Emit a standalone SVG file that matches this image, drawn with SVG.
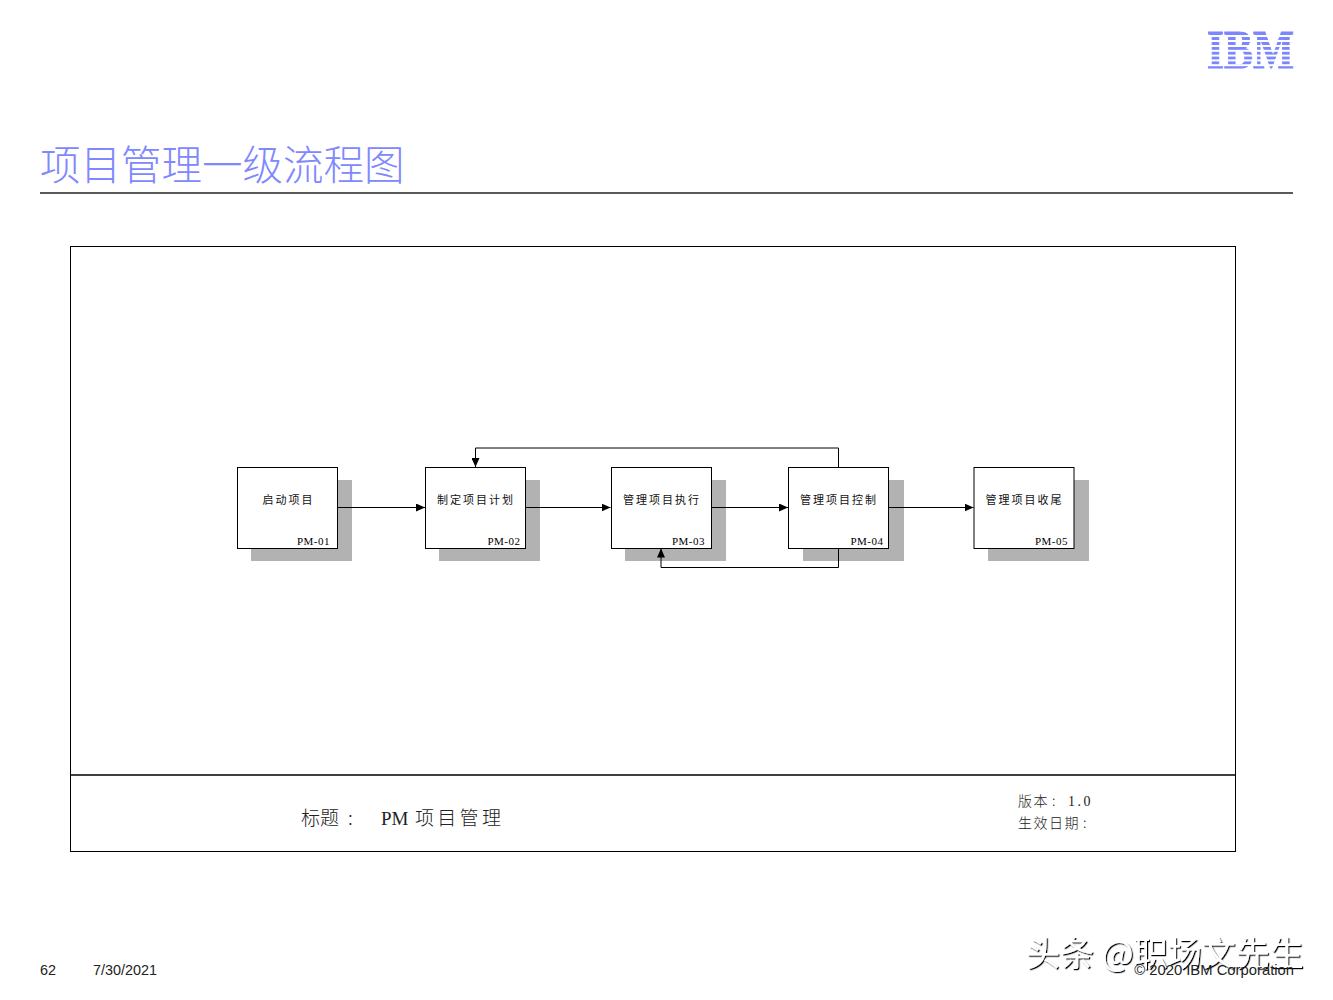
<svg xmlns="http://www.w3.org/2000/svg" width="1333" height="1000" viewBox="0 0 1333 1000">
<style>
.cjk{font-family:"Noto Sans CJK SC","Liberation Serif",sans-serif}
.box{fill:#fff;stroke:#000;stroke-width:1}
.sh{fill:#b2b2b2}
.lab{font-family:"Noto Sans CJK SC",sans-serif;font-size:11px;fill:#111;text-anchor:middle;letter-spacing:2px}
.code{font-family:"Liberation Serif",serif;font-size:11px;fill:#000;text-anchor:end;letter-spacing:.5px}
.con{fill:none;stroke:#000;stroke-width:1}
.foot{font-family:"Liberation Sans",sans-serif;font-size:14.4px;fill:#222}
</style>
<defs>
<marker id="arr" markerUnits="userSpaceOnUse" markerWidth="9" markerHeight="8" refX="9" refY="4" orient="auto"><path d="M0 0L9 4L0 8Z" fill="#000"/></marker>
<filter id="wm" x="-5%" y="-10%" width="110%" height="130%"><feDropShadow dx="1.2" dy="1.2" stdDeviation="0.3" flood-color="#000"/></filter>
</defs>
<rect width="1333" height="1000" fill="#fff"/>
<g id="logo">
<text x="1207" y="67.500" font-family="Liberation Serif,serif" font-weight="700" font-size="54" fill="#7b86ff" stroke="#7b86ff" stroke-width="1" textLength="87" lengthAdjust="spacingAndGlyphs">IBM</text>
<g fill="#fff"><rect x="1204" y="35" width="92" height="2"/><rect x="1204" y="40" width="92" height="2"/><rect x="1204" y="45" width="92" height="2"/><rect x="1204" y="49.800" width="92" height="2"/><rect x="1204" y="54.600" width="92" height="2"/><rect x="1204" y="59.400" width="92" height="2"/><rect x="1204" y="64.200" width="92" height="2"/></g>
</g>
<text id="title" class="cjk" x="40" y="180" font-size="40.500" font-weight="300" fill="#8088ff">项目管理一级流程图</text>
<line x1="40" y1="193" x2="1293" y2="193" stroke="#222" stroke-width="1.500"/>
<g id="frame"><rect x="70.500" y="246.500" width="1165" height="605" fill="none" stroke="#000"/><line x1="70" y1="775" x2="1236" y2="775" stroke="#000" stroke-width="1.300"/></g>
<g id="n1"><rect class="sh" x="251" y="480" width="101" height="81"/><rect class="box" x="237.500" y="467.500" width="100" height="81"/><text class="lab" x="288.500" y="504">启动项目</text><text class="code" x="330" y="545">PM-01</text></g>
<g id="n2"><rect class="sh" x="439" y="480" width="101" height="81"/><rect class="box" x="425.500" y="467.500" width="100" height="81"/><text class="lab" x="476" y="504">制定项目计划</text><text class="code" x="520.500" y="545">PM-02</text></g>
<g id="n3"><rect class="sh" x="625" y="480" width="101" height="81"/><rect class="box" x="611.500" y="467.500" width="100" height="81"/><text class="lab" x="662" y="504">管理项目执行</text><text class="code" x="705" y="545">PM-03</text></g>
<g id="n4"><rect class="sh" x="803" y="480" width="101" height="81"/><rect class="box" x="788.500" y="467.500" width="100" height="81"/><text class="lab" x="839" y="504">管理项目控制</text><text class="code" x="883.500" y="545">PM-04</text></g>
<g id="n5"><rect class="sh" x="988" y="480" width="101" height="81"/><rect class="box" x="974" y="467.500" width="100" height="81"/><text class="lab" x="1024.500" y="504">管理项目收尾</text><text class="code" x="1068" y="545">PM-05</text></g>
<g id="connectors">
<path class="con" d="M338 507.500H425" marker-end="url(#arr)"/>
<path class="con" d="M526 507.500H610.500" marker-end="url(#arr)"/>
<path class="con" d="M712 507.500H788" marker-end="url(#arr)"/>
<path class="con" d="M889 507.500H973.500" marker-end="url(#arr)"/>
<path class="con" d="M838.500 467V448H475.500V467" marker-end="url(#arr)"/>
<path class="con" d="M838.500 549V567.500H661V548.500" marker-end="url(#arr)"/>
</g>
<g id="caption" fill="#222">
<text class="cjk" x="301" y="825" font-size="19" font-weight="300">标题<tspan dx="9">:</tspan></text>
<text x="381" y="825" font-family="Liberation Serif,serif" font-size="19">PM</text>
<text class="cjk" x="415" y="825" font-size="19" font-weight="300" letter-spacing="3.300">项目管理</text>
<text class="cjk" x="1018" y="806" font-size="14" font-weight="300" letter-spacing="1.500">版本<tspan dx="3">:</tspan></text>
<text x="1068" y="806" font-family="Liberation Serif,serif" font-size="14" letter-spacing="2.500">1.0</text>
<text class="cjk" x="1018" y="828" font-size="14" font-weight="300" letter-spacing="1.500">生效日期<tspan dx="3">:</tspan></text>
</g>
<text class="cjk" x="1026" y="966" font-size="34" fill="#fff" filter="url(#wm)">头条 @职场文先生</text>
<text class="foot" x="40" y="975">62</text>
<text class="foot" x="93" y="975">7/30/2021</text>
<text class="foot" x="1294" y="975" text-anchor="end" style="font-size:14.8px">© 2020 IBM Corporation</text>
</svg>
